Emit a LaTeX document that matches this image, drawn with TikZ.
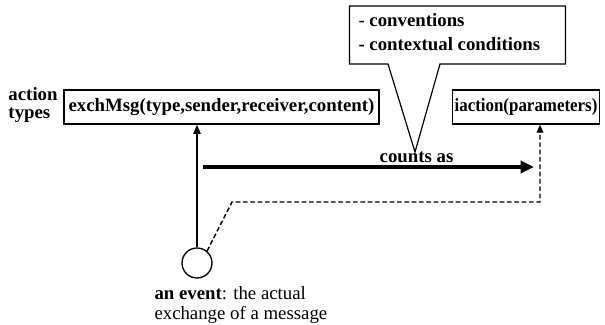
\documentclass[tikz,border=0pt]{standalone}
\usepackage{fontspec}
\usepackage{graphicx}
\setmainfont{Liberation Serif}
\usetikzlibrary{arrows.meta}

\tikzset{every picture/.style={line width=0.75pt}}
\tikzset{
  typebox/.style={draw, line width=0.9pt, font=\fontsize{14.1}{16}\selectfont\bfseries, inner xsep=2pt, inner ysep=0pt, minimum height=25.5pt},
  plain/.style={font=\fontsize{14.1}{16}\selectfont, align=left, inner sep=0pt},
  evtcircle/.style={draw, circle, line width=1pt, minimum size=22.5pt, inner sep=0pt},
  solidarr/.style={line width=1.2pt, -{Triangle[length=7pt,width=5.5pt]}},
  dasharr/.style={line width=1.1pt, dash pattern=on 3.5pt off 2pt, -{Triangle[length=6pt,width=5pt]}},
  countarr/.style={line width=3pt, -{Triangle[length=10pt,width=9pt]}},
}

\begin{document}
\begin{tikzpicture}[x=0.75pt,y=0.75pt,yscale=-1,xscale=1]
\useasboundingbox (0,0) rectangle (605,324);

% Boxes
\node [typebox, minimum width=236.25pt] (exch) at (221.5,107) {exchMsg(type,sender,receiver,content)};
\node [typebox, anchor=west, inner xsep=1.5pt] (iact) at (452,107) {\scalebox{0.9}[1]{iaction(parameters)}};

% Text Node
\node [plain, font=\fontsize{14.1}{13}\selectfont\bfseries, anchor=base west] (acttypes) at (8,118) {action\\types};

% Callout
\node [minimum width=161.25pt, minimum height=42.75pt, inner sep=0pt] (conv) at (457.5,35) {};
\coordinate (pl) at (388,63);
\coordinate (pr) at (440,63);
\coordinate (tip) at (415,152);
\draw [line width=0.9pt] (pl |- conv.south) -- (conv.south west) -- (conv.north west) -- (conv.north east) -- (conv.south east) -- (pr |- conv.south) -- (tip) -- cycle;
\node [plain, font=\fontsize{14.1}{18}\selectfont\bfseries, anchor=base west] (convtext) at (358,51) {{\mdseries -} conventions\\- contextual conditions};

% Counts as
\coordinate (cstart) at (203,167);
\coordinate (cend) at (534,167);
\draw [countarr] (cstart) -- (cend) node [pos=0.645, above=2pt, plain, font=\fontsize{14.1}{16}\selectfont\bfseries] (countsas) {counts as};

% Event
\node [evtcircle] (ev) at (197,263) {};
\draw [solidarr] (ev.north) -- (ev.north |- exch.south);
\coordinate (dbend) at (232,202);
\coordinate (dcorner) at (540,202);
\draw [dasharr] (ev.50) -- (dbend) -- (dcorner) -- (dcorner |- iact.south);

% Text Node
\node [plain, font=\fontsize{14.1}{15}\selectfont, anchor=base west] (evtext) at (154,319) {\textbf{an event}: the actual\\exchange of a message};

\end{tikzpicture}
\end{document}
